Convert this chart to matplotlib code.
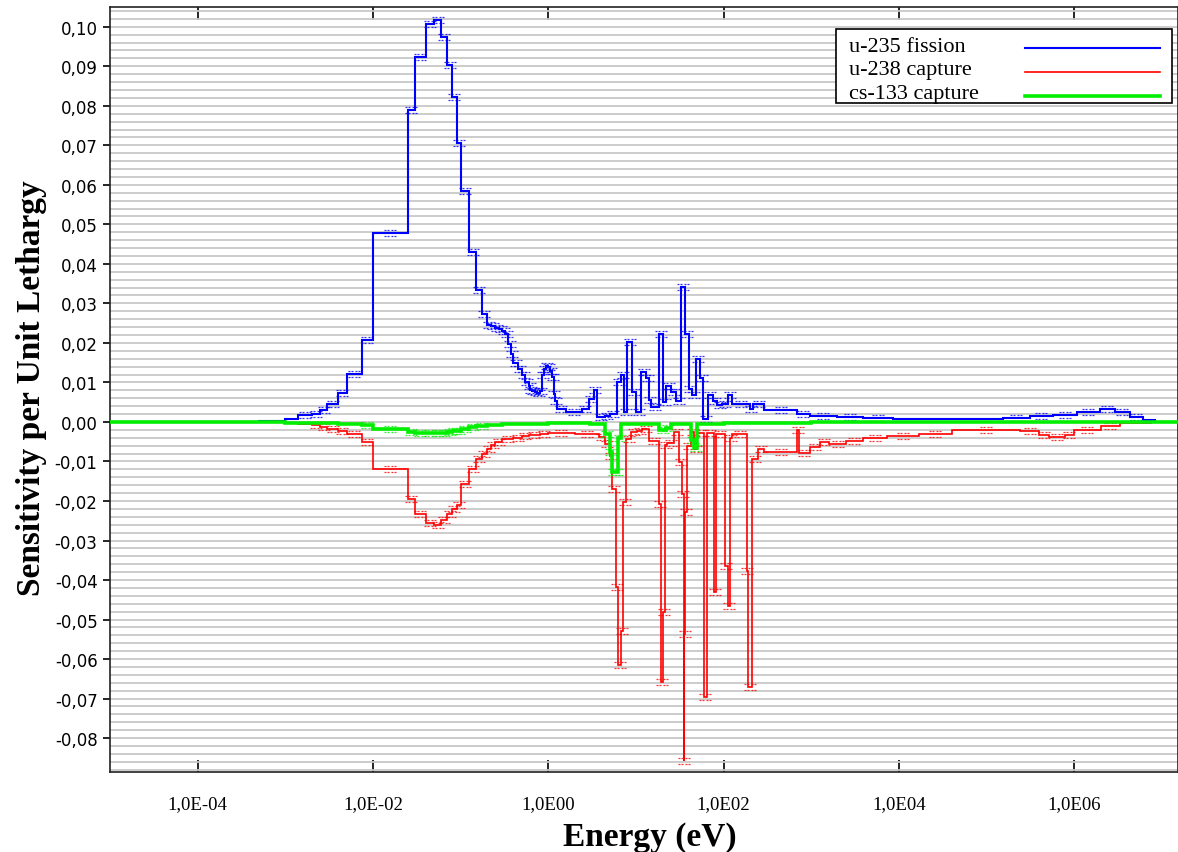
import numpy as np
import matplotlib
matplotlib.use("Agg")
import matplotlib.pyplot as plt
from matplotlib.path import Path
from matplotlib.lines import Line2D
from matplotlib.patches import Rectangle
from matplotlib.ticker import FixedLocator, MultipleLocator, FuncFormatter, NullLocator

# ---------------- data (energy group edges in eV, sensitivity per unit lethargy) ----------------
u235_edges = [1e-5, 5e-4, 1e-3, 1.4e-3, 2e-3, 2.5e-3, 3e-3, 4e-3, 5e-3, 7.5e-3,
              0.01, 0.025, 0.03, 0.04, 0.05, 0.06, 0.07, 0.08, 0.09, 0.1,
              0.125, 0.15, 0.175, 0.2, 0.225, 0.25, 0.275, 0.3, 0.325, 0.35,
              0.375, 0.4, 0.45, 0.5, 0.55, 0.6, 0.625, 0.65, 0.7, 0.75,
              0.8, 0.85, 0.9, 0.95, 1.0, 1.05, 1.1, 1.15, 1.2, 1.25,
              1.6, 2.4, 2.9, 3.3, 3.6, 4.4, 5.0, 6.1, 6.8, 7.4,
              8.0, 9.1, 10.1, 11.5, 13.2, 14.2, 15.0, 18.5, 20.5, 22.3,
              25.4, 29, 33, 36.7, 40, 44, 49, 54, 59, 66,
              75, 85, 97, 111, 126, 198, 215, 293, 680, 960,
              1950, 3870, 8500, 1.54e5, 3.1e5, 5.7e5, 1.07e6, 1.96e6, 2.9e6, 4.3e6,
              6.1e6, 8.3e6, 2e7]
u235_values = [0.0, 0.0002, 0.0007, 0.0017, 0.0021, 0.0029, 0.0046, 0.0072, 0.0122, 0.0207,
               0.0477, 0.0789, 0.0924, 0.1008, 0.1017, 0.0975, 0.0903, 0.0823, 0.0705, 0.0584,
               0.0429, 0.0333, 0.0274, 0.0245, 0.0242, 0.0238, 0.0236, 0.0230, 0.0223, 0.0198,
               0.0173, 0.0150, 0.0135, 0.0118, 0.0100, 0.0090, 0.0082, 0.0078, 0.0076, 0.0074,
               0.0078, 0.0118, 0.0135, 0.0142, 0.0140, 0.0128, 0.0115, 0.0070, 0.0052, 0.0033,
               0.0026, 0.0033, 0.0059, 0.0080, 0.0012, 0.0014, 0.0021, 0.0101, 0.0118, 0.0025,
               0.0202, 0.0075, 0.0025, 0.0126, 0.0110, 0.0055, 0.0037, 0.0223, 0.0050, 0.0092,
               0.0075, 0.0054, 0.0341, 0.0223, 0.0084, 0.0067, 0.0160, 0.0110, 0.0008, 0.0067,
               0.0054, 0.0042, 0.0046, 0.0067, 0.0046, 0.0033, 0.0046, 0.0029, 0.0021, 0.0015,
               0.0013, 0.0010, 0.0007, 0.0010, 0.0015, 0.0018, 0.0025, 0.0034, 0.0024, 0.0013,
               0.0004, 0.0001]

u238_edges = [1e-5, 5e-4, 1e-3, 1.4e-3, 2e-3, 2.5e-3, 3e-3, 4e-3, 5e-3, 7.5e-3,
              0.01, 0.025, 0.03, 0.04, 0.05, 0.06, 0.07, 0.08, 0.09, 0.1,
              0.125, 0.15, 0.175, 0.2, 0.225, 0.25, 0.3, 0.4, 0.5, 0.6,
              0.8, 1.0, 2.0, 3.8, 4.4, 5.0, 5.4, 5.9, 6.3, 6.8,
              7.2, 7.8, 8.9, 10.4, 11.8, 14.2, 18.5, 19.5, 20.5, 21.2,
              22.8, 27.4, 31.4, 34, 35, 35.8, 36.7, 38.6, 43, 46.5,
              50, 60, 64, 77, 81, 105, 111, 120, 126, 185,
              190, 210, 250, 293, 680, 720, 960, 1250, 1600, 2500,
              3870, 7300, 1.7e4, 4e4, 2.4e5, 4e5, 5.2e5, 7.8e5, 1e6, 2e6,
              3.3e6, 7.5e6, 2e7]
u238_values = [-0.00005, -0.0001, -0.0003, -0.0006, -0.0008, -0.0013, -0.0019, -0.0023, -0.0030, -0.0051,
               -0.0120, -0.0196, -0.0232, -0.0256, -0.0262, -0.0249, -0.0232, -0.0220, -0.0210, -0.0156,
               -0.0120, -0.0093, -0.0080, -0.0068, -0.0058, -0.0050, -0.0044, -0.0040, -0.0035, -0.0033,
               -0.0030, -0.0028, -0.0030, -0.0039, -0.0055, -0.0085, -0.0169, -0.0418, -0.0616, -0.0528,
               -0.0203, -0.0042, -0.0025, -0.0023, -0.0017, -0.0047, -0.0207, -0.0659, -0.0482, -0.0059,
               -0.0052, -0.0025, -0.0102, -0.0182, -0.0857, -0.0536, -0.0229, -0.0060, -0.0025, -0.0068,
               -0.0028, -0.0696, -0.0028, -0.0431, -0.0030, -0.0364, -0.0466, -0.0040, -0.0030, -0.0376,
               -0.0671, -0.0093, -0.0068, -0.0075, -0.0021, -0.0078, -0.0063, -0.0050, -0.0055, -0.0047,
               -0.0041, -0.0036, -0.0030, -0.0021, -0.0023, -0.0032, -0.0038, -0.0032, -0.0021, -0.0010,
               -0.0003, -0.00005]

cs133_edges = [1e-5, 1e-3, 4e-3, 7.5e-3, 0.01, 0.025, 0.03, 0.04, 0.05, 0.06,
               0.07, 0.08, 0.09, 0.1, 0.125, 0.15, 0.2, 0.3, 1.0, 3.0,
               4.4, 5.0, 5.4, 5.9, 6.3, 6.8, 18.5, 22, 25, 43,
               46.5, 50, 100, 1000, 2e7]
cs133_values = [-0.00005, -0.0002, -0.0005, -0.0008, -0.0017, -0.0026, -0.0028, -0.0029, -0.0029, -0.0028,
                -0.0026, -0.0024, -0.0022, -0.0018, -0.0014, -0.0010, -0.0007, -0.0004, -0.0003, -0.0006,
                -0.0030, -0.0075, -0.0127, -0.0127, -0.0040, -0.0004, -0.0020, -0.0016, -0.0004, -0.0045,
                -0.0065, -0.0005, -0.0003, -0.0001]

series_labels = ["u-235 fission", "u-238 capture", "cs-133 capture"]
x_tick_values = [1e-4, 1e-2, 1e0, 1e2, 1e4, 1e6]
x_tick_labels = ["1,0E-04", "1,0E-02", "1,0E00", "1,0E02", "1,0E04", "1,0E06"]
y_tick_values = [-0.08, -0.07, -0.06, -0.05, -0.04, -0.03, -0.02, -0.01, 0.0,
                 0.01, 0.02, 0.03, 0.04, 0.05, 0.06, 0.07, 0.08, 0.09, 0.10]

# ---------------- figure ----------------
W, H = 1178, 853
AX_L, AX_R, AX_T, AX_B = 110, 1178, 8, 772.7
fig = plt.figure(figsize=(W / 100, H / 100), dpi=100)
ax = fig.add_axes([AX_L / W, 1 - AX_B / H, (AX_R - AX_L) / W, (AX_B - AX_T) / H])
ax.set_xscale("log")
ax.set_xlim(1e-5, 1.53e7)
ax.set_ylim(-0.0885, 0.105)

ax.yaxis.set_major_locator(FixedLocator(y_tick_values))
ax.yaxis.set_minor_locator(MultipleLocator(0.002))
ax.yaxis.set_major_formatter(FuncFormatter(
    lambda v, p: ("%.2f" % v).replace("-0.00", "0.00").replace(".", ",")))
ax.grid(which="both", axis="y", color="#c8c8c8", lw=1.3)
ax.set_axisbelow(True)

# dotted uncertainty marks (style decoration)
verts, codes = [], []
for yy in (0.5, -0.5):
    for xx in (-1.0, -0.45, 0.1, 0.65):
        verts += [(xx, yy), (xx + 0.3, yy)]
        codes += [Path.MOVETO, Path.LINETO]
dot_marker = Path(verts, codes)

styles = [("#0000ff", 1.5), ("#ff0000", 1.2), ("#00ee00", 2.6)]
all_series = [(u235_edges, u235_values), (u238_edges, u238_values), (cs133_edges, cs133_values)]

for (edges, vals), (col, lw) in zip(all_series, styles):
    e = np.asarray(edges, dtype=float)
    v = np.asarray(vals, dtype=float)
    ax.stairs(v, e, baseline=None, color=col, lw=lw, zorder=3)
    centers = np.sqrt(e[:-1] * e[1:])
    m = np.abs(v) >= 0.0008
    ax.plot(centers[m], v[m], linestyle="none", marker=dot_marker, markersize=9,
            markeredgewidth=0.9, color=col, alpha=0.8, zorder=3)

# ticks
ax.set_xticks(x_tick_values, x_tick_labels)
ax.xaxis.set_minor_locator(NullLocator())
ax.tick_params(axis="x", which="major", direction="in", length=9, width=1.2,
               top=True, pad=17, labelsize=13.5)
for lbl in ax.get_xticklabels():
    lbl.set_fontfamily("Liberation Serif")
ax.tick_params(axis="y", which="major", direction="out", length=5, width=1.2,
               pad=4, labelsize=12)
ax.tick_params(axis="y", which="minor", length=0)
for sp in ax.spines.values():
    sp.set_linewidth(1.2)
    sp.set_color("#222222")

# axis titles
fig.text(650 / W, 1 - 838 / H, "Energy (eV)", ha="center", va="center",
         fontsize=24, fontweight="bold", family="Liberation Serif")
fig.text(32 / W, 1 - 388 / H, "Sensitivity per Unit Lethargy", rotation=90,
         ha="center", va="center", fontsize=24, fontweight="bold", family="Liberation Serif")

# legend box: text on the left, line sample on the right
def fx(px):
    return (px - AX_L) / (AX_R - AX_L)

def fy(py):
    return (AX_B - py) / (AX_B - AX_T)

ax.add_patch(Rectangle((fx(836), fy(104)), fx(1172) - fx(836), fy(30) - fy(104),
                       transform=ax.transAxes, facecolor="white", edgecolor="black",
                       lw=1.2, zorder=6, clip_on=False))
row_y = [47, 71, 95]
for lab, (col, lw), yy in zip(series_labels, styles, row_y):
    ax.text(fx(849), fy(yy), lab, transform=ax.transAxes, ha="left", va="center",
            fontsize=16, family="Liberation Serif", zorder=7)
    ax.add_line(Line2D([fx(1025), fx(1160)], [fy(yy + 1.5), fy(yy + 1.5)],
                       transform=ax.transAxes, color=col, lw=lw, zorder=7, clip_on=False))

fig.savefig("out.png", dpi=100)
